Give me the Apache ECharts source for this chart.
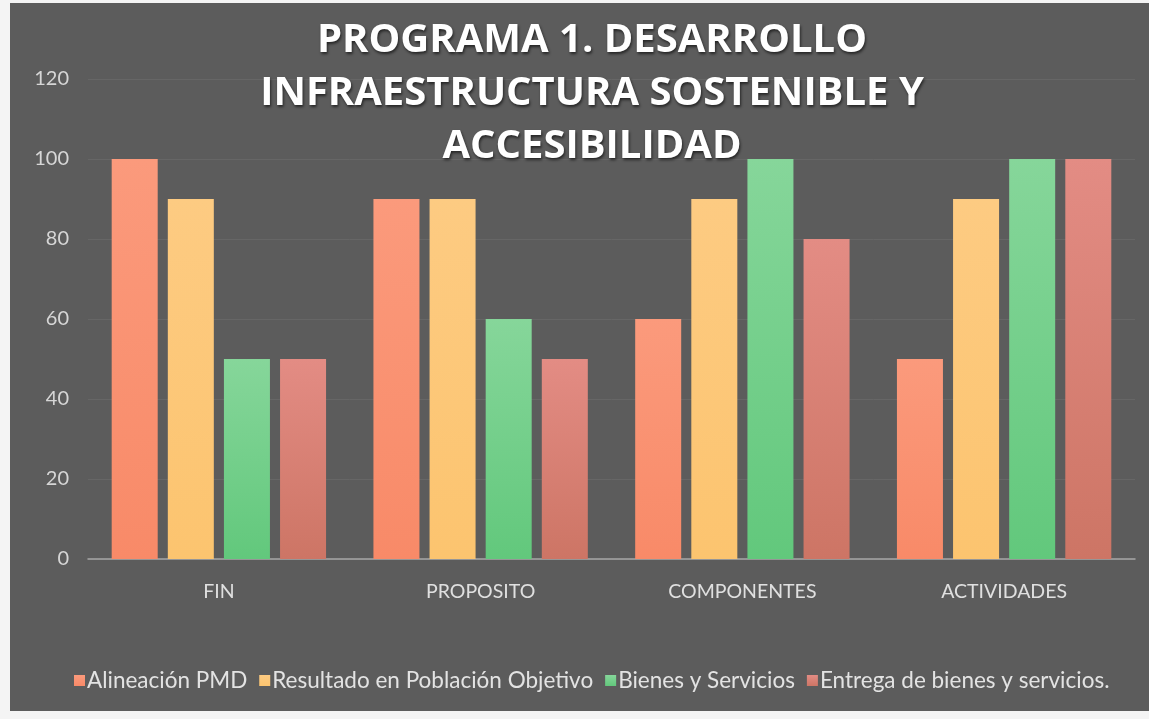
<!DOCTYPE html>
<html>
<head>
<meta charset="utf-8">
<script src="https://cdn.jsdelivr.net/npm/echarts@6/dist/echarts.min.js"></script>
<style>
  html, body { margin: 0; padding: 0; background: #f4f4f4; }
  /* el recuadro gris del grafico, con un borde claro como en el escaneo */
  #chart { position: absolute; left: 10px; top: 3px; width: 1139px; height: 708px; }
</style>
</head>
<body>
<div id="chart"></div>
<script>
// categorias del eje x
var categorias = ['FIN', 'PROPOSITO', 'COMPONENTES', 'ACTIVIDADES']
// series
var nombresSeries = ['Alineación PMD', 'Resultado en Población Objetivo', 'Bienes y Servicios', 'Entrega de bienes y servicios.']
var alineacion = [100, 90, 60, 50]
var resultado = [90, 90, 90, 90]
var bienes = [50, 60, 100, 100]
var entrega = [50, 50, 80, 100]
// eje y
var yMin = 0
var yMax = 120
var yPaso = 20

var colores = [
  ['#fb9a7c', '#f88a68'],
  ['#fdcb82', '#fcc46f'],
  ['#86d69a', '#62c87c'],
  ['#e38c84', '#cd7565']
]

function grad(c) {
  return new echarts.graphic.LinearGradient(0, 0, 0, 1, [
    { offset: 0, color: c[0] },
    { offset: 1, color: c[1] }
  ])
}

var datos = [alineacion, resultado, bienes, entrega]
var series = datos.map(function (d, i) {
  return {
    name: nombresSeries[i],
    type: 'bar',
    data: d,
    barWidth: 46,
    barGap: '22%',
    itemStyle: { color: grad(colores[i]) }
  }
})

var myChart = echarts.init(document.getElementById('chart'))
var option = {
  backgroundColor: '#5c5c5c',
  color: colores.map(function (c) { return c[1] }),
  title: {
    text: 'PROGRAMA 1. DESARROLLO\nINFRAESTRUCTURA SOSTENIBLE Y\nACCESIBILIDAD',
    left: 577, // centro del titulo
    top: 6,
    textAlign: 'center',
    textStyle: {
      color: '#ffffff',
      fontFamily: 'Open Sans',
      fontWeight: 'bold',
      fontSize: 40,
      lineHeight: 53,
      textShadowColor: 'rgba(0,0,0,0.6)',
      textShadowBlur: 3,
      textShadowOffsetX: 1,
      textShadowOffsetY: 2
    }
  },
  legend: {
    bottom: 14,
    left: 59,
    itemWidth: 11,
    itemHeight: 11,
    itemGap: 12,
    icon: 'rect',
    textStyle: { color: '#e3e3e3', fontSize: 22.5, fontFamily: 'Lato', padding: [0, 0, 0, -3] }
  },
  grid: {
    left: 78,
    right: 14,
    top: 76,
    bottom: 152
  },
  xAxis: {
    type: 'category',
    data: categorias,
    axisTick: { show: false },
    axisLine: { lineStyle: { color: '#a6a6a6', width: 1.5 } },
    axisLabel: { color: '#e0e0e0', fontSize: 19.5, fontFamily: 'Lato', margin: 23 }
  },
  yAxis: {
    type: 'value',
    min: yMin,
    max: yMax,
    interval: yPaso,
    axisLine: { show: false },
    axisTick: { show: false },
    axisLabel: { color: '#d6d6d6', fontSize: 20, fontFamily: 'Lato', margin: 19 },
    splitLine: { lineStyle: { color: '#666666', width: 1 } }
  },
  series: series
}
myChart.setOption(option)
</script>
</body>
</html>
